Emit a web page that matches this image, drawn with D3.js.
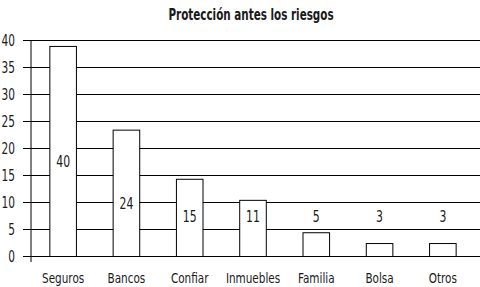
<!DOCTYPE html>
<html>
<head>
<meta charset="utf-8">
<script src="https://cdn.jsdelivr.net/npm/d3@7"></script>
<style>
  body { margin: 0; background: #fff; }
  svg text { font-family: "DejaVu Sans Condensed", "DejaVu Sans", sans-serif; font-stretch: condensed; fill: #1a1a1a; }
</style>
</head>
<body>
<svg id="chart"></svg>
<script>
const categories = ["Seguros", "Bancos", "Confiar", "Inmuebles", "Familia", "Bolsa", "Otros"];
const values = [38.9, 23.4, 14.3, 10.4, 4.4, 2.4, 2.4];
const valueLabels = ["40", "24", "15", "11", "5", "3", "3"];
const yTicks = [0, 5, 10, 15, 20, 25, 30, 35, 40];
const title = "Protección antes los riesgos";

const width = 480, height = 287;
const margin = { top: 40, right: 6, bottom: 31, left: 31 };

const svg = d3.select("#chart").attr("width", width).attr("height", height);

const x = d3.scaleBand()
    .domain(categories)
    .range([margin.left, width - margin.right])
    .paddingInner(0.58)
    .paddingOuter(0.29);

const y = d3.scaleLinear()
    .domain([0, 40])
    .range([height - margin.bottom, margin.top]);

// narrow text: the original uses a condensed face
const narrow = (sel, sx, px, py) => sel
    .attr("x", 0).attr("y", 0)
    .attr("transform", (d, i) => `translate(${px(d, i)},${py(d, i)}) scale(${sx},1)`);

// gridlines + ticks
const yAxis = svg.append("g")
    .attr("transform", `translate(${margin.left},0)`)
    .call(d3.axisLeft(y).tickValues(yTicks).tickSize(8).tickSizeOuter(0).tickPadding(9));
yAxis.select(".domain").remove();
yAxis.selectAll(".tick line").clone()
    .attr("x2", width - margin.left)
    .attr("stroke", "#000");
yAxis.selectAll(".tick line").attr("stroke", "#000");
yAxis.selectAll("text")
    .style("font-size", "15.5px")
    .attr("fill", "#1a1a1a")
    .call(narrow, 0.76, () => -16, () => 0)
    .attr("dy", "0.36em");

// vertical axis line
svg.append("line")
    .attr("x1", margin.left).attr("x2", margin.left)
    .attr("y1", y(40)).attr("y2", y(0) + 6)
    .attr("stroke", "#000");

// bars
svg.append("g").selectAll("rect")
    .data(categories)
    .join("rect")
    .attr("x", d => x(d) + 0.5)
    .attr("y", (d, i) => y(values[i]) + 0.5)
    .attr("width", x.bandwidth())
    .attr("height", (d, i) => y(0) - y(values[i]))
    .attr("fill", "#fff")
    .attr("stroke", "#000");

// value labels
svg.append("g").selectAll("text")
    .data(categories)
    .join("text")
    .attr("text-anchor", "middle")
    .attr("dy", "0.36em")
    .style("font-size", "15.5px")
    .text((d, i) => valueLabels[i])
    .call(narrow, 0.78,
        d => x(d) + x.bandwidth() / 2 + 0.5,
        (d, i) => y(Math.max(values[i] / 2 - 2, 7.3)));

// category labels
svg.append("g").selectAll("text")
    .data(categories)
    .join("text")
    .attr("text-anchor", "middle")
    .style("font-size", "14.5px")
    .text(d => d)
    .call(narrow, 0.8, d => x(d) + x.bandwidth() / 2 + 0.5, () => 282.5);

svg.append("text")
    .attr("text-anchor", "middle")
    .style("font-size", "15px")
    .style("font-weight", "bold")
    .text(title)
    .call(narrow, 0.77, () => 251, () => 20);
</script>
</body>
</html>
